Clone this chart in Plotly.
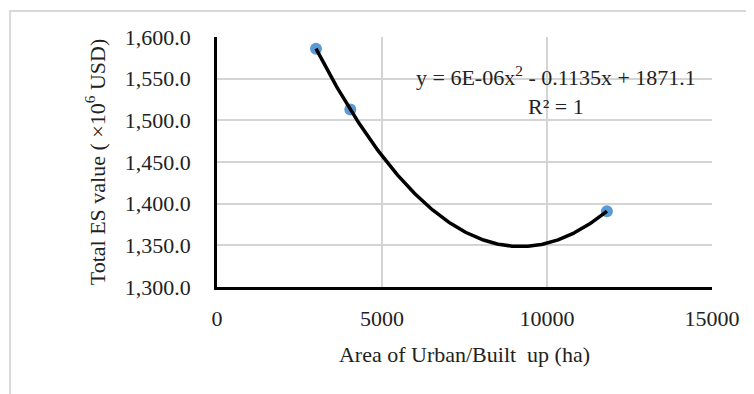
import numpy as np
import plotly.graph_objects as go

# Data
area_ha = [3000, 4040, 11815]
es_value = [1586, 1513, 1391]

x_ticks = [0, 5000, 10000, 15000]
y_ticks = [1300, 1350, 1400, 1450, 1500, 1550, 1600]

# Quadratic trendline fitted to the points (as the spreadsheet does)
coef = np.polyfit(area_ha, es_value, 2)
xs = np.linspace(min(area_ha), max(area_ha), 200)
ys = np.polyval(coef, xs)

FONT = "Liberation Serif, Times New Roman, serif"

fig = go.Figure()
fig.add_trace(go.Scatter(
    x=area_ha, y=es_value, mode="markers",
    marker=dict(color="#5b9bd5", size=12),
    showlegend=False, hoverinfo="x+y"))
fig.add_trace(go.Scatter(
    x=xs, y=ys, mode="lines",
    line=dict(color="black", width=3.5),
    showlegend=False, hoverinfo="skip"))

fig.update_layout(
    width=746, height=386,
    margin=dict(l=209, r=42, t=29, b=107, autoexpand=False),
    paper_bgcolor="white", plot_bgcolor="white",
    font=dict(family=FONT, size=22, color="#222"),
    xaxis=dict(
        range=[0, 15000], tickvals=x_ticks, tickformat="d",
        showgrid=True, gridcolor="#d4d4d4", gridwidth=1.5,
        showline=True, linecolor="black", linewidth=2.5,
        zeroline=False, ticks="", ticklabelstandoff=10, automargin=False,
        title=dict(text="Area of Urban/Built  up (ha)", standoff=17,
                   font=dict(size=22)),
    ),
    yaxis=dict(
        range=[1300, 1600], tickvals=y_ticks, tickformat=",.1f",
        showgrid=True, gridcolor="#d4d4d4", gridwidth=1.5,
        showline=True, linecolor="black", linewidth=2.5,
        zeroline=False, ticks="", ticklabelstandoff=19, automargin=False,
        title=dict(text="Total ES value ( ×10<sup>6</sup> USD)", standoff=14,
                   font=dict(size=22)),
    ),
    annotations=[dict(
        x=10270, y=1536, xref="x", yref="y",
        xanchor="center", yanchor="middle",
        text="y = 6E-06x<sup>2</sup> - 0.1135x + 1871.1<br>R² = 1",
        showarrow=False, align="center",
        font=dict(family=FONT, size=22, color="#222"),
    )],
    shapes=[dict(
        type="rect", xref="paper", yref="paper",
        x0=-0.418, x1=2, y0=-2, y1=1.104,
        line=dict(color="#d9d9d9", width=2), layer="below",
    )],
)

fig.write_html("out.html")
